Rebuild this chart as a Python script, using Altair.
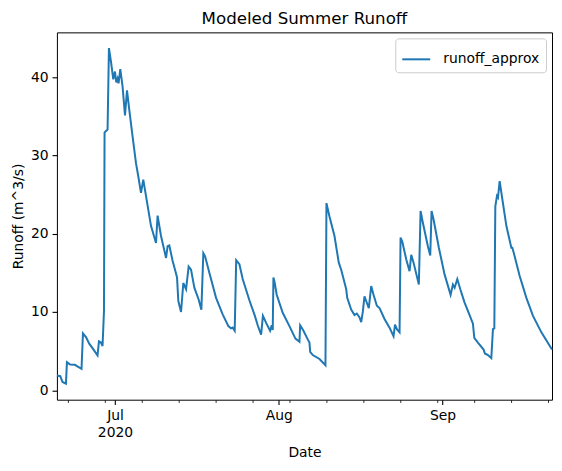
import altair as alt
import pandas as pd

# runoff: days since 2020-06-20 00:00 and value in m^3/s
days = [0.0, 0.63, 1.06, 1.71, 1.90, 2.52, 3.41, 4.04, 4.66, 4.93,
        5.50, 6.12, 6.94, 7.69, 7.96, 8.34, 8.64, 8.91, 9.02, 9.29,
        9.59, 9.85, 10.23, 10.67, 10.99, 11.24, 11.48, 11.67, 12.00, 12.43,
        12.89, 13.27, 13.70, 14.33, 14.97, 15.41, 15.92, 16.35, 16.87, 17.81,
        18.76, 19.06, 19.71, 20.66, 20.96, 21.28, 21.91, 22.36, 22.74, 22.99,
        23.50, 23.93, 24.45, 24.94, 25.39, 26.02, 26.83, 27.35, 27.72, 28.05,
        28.86, 30.13, 31.38, 32.46, 32.97, 33.28, 33.66, 33.94, 34.55, 35.17,
        36.44, 37.48, 38.01, 38.66, 39.00, 39.61, 40.36, 40.67, 40.86, 40.99,
        41.24, 41.61, 42.75, 44.02, 45.16, 45.92, 46.05, 46.68, 47.49, 47.81,
        47.95, 48.44, 49.71, 50.84, 51.03, 51.60, 52.55, 53.36, 53.82, 54.77,
        54.96, 55.71, 56.34, 56.78, 57.29, 57.61, 57.91, 58.23, 58.55, 59.05,
        59.50, 59.94, 60.57, 61.08, 62.02, 62.97, 63.73, 64.01, 64.36, 64.87,
        65.06, 65.38, 66.14, 66.76, 67.08, 67.52, 68.52, 68.85, 69.28, 70.23,
        70.68, 70.93, 71.31, 72.31, 73.39, 74.53, 74.97, 75.29, 75.80, 76.37,
        77.18, 78.13, 78.76, 79.02, 79.70, 80.78, 81.03, 81.60, 82.24, 82.55,
        82.81, 83.00, 83.31, 83.50, 83.82, 84.44, 85.09, 86.03, 86.22, 86.47,
        87.61, 88.88, 90.13, 91.72, 93.73]
runoff = [1.9, 1.8, 1.06, 0.85, 3.6, 3.3, 3.25, 3.0, 2.75, 7.27,
          6.8, 5.95, 5.2, 4.45, 6.25, 6.1, 5.65, 10.1, 32.9, 33.1,
          33.3, 43.7, 42.0, 39.7, 40.7, 39.3, 39.8, 39.2, 41.0, 38.8,
          35.1, 38.3, 35.8, 32.4, 29.0, 27.3, 25.2, 26.9, 24.8, 21.0,
          18.8, 22.3, 19.7, 16.9, 18.4, 18.5, 16.5, 15.4, 14.4, 11.4,
          10.0, 13.7, 12.9, 15.8, 15.4, 13.1, 11.6, 10.3, 17.5, 17.1,
          15.0, 11.8, 9.7, 8.2, 7.9, 8.0, 7.6, 16.6, 16.1, 14.2,
          11.5, 9.5, 8.3, 7.1, 9.5, 8.6, 7.6, 8.3, 7.7, 14.4,
          13.7, 12.2, 9.9, 8.2, 6.6, 6.2, 8.3, 7.6, 6.5, 6.1,
          4.9, 4.5, 4.0, 3.2, 23.9, 22.2, 19.7, 16.3, 15.4, 12.9,
          11.8, 10.3, 9.6, 9.8, 9.3, 8.7, 10.0, 12.0, 11.4, 10.5,
          13.3, 12.2, 10.8, 10.5, 9.1, 8.0, 6.9, 8.4, 7.8, 7.4,
          19.5, 19.0, 16.7, 15.2, 17.3, 16.3, 13.5, 22.9, 21.4, 18.4,
          17.2, 22.9, 21.8, 18.2, 14.8, 12.2, 13.5, 13.1, 14.2, 12.9,
          11.2, 9.6, 8.5, 6.7, 6.1, 5.2, 4.7, 4.5, 4.1, 7.8,
          7.9, 23.5, 24.8, 24.6, 26.7, 23.9, 21.0, 18.2, 18.2, 17.6,
          14.6, 11.8, 9.5, 7.4, 5.2]

y_ticks = [0, 10, 20, 30, 40]
month_ticks = ["2020-07-01", "2020-08-01", "2020-09-01"]
monday_ticks = pd.date_range("2020-06-22", "2020-09-21", freq="7D")

start = pd.Timestamp("2020-06-20")
df = pd.DataFrame({
    "Date": start + pd.to_timedelta(days, unit="D"),
    "runoff": runoff,
    "series": "runoff_approx",
})


def dt(ts):
    ts = pd.Timestamp(ts)
    return alt.DateTime(year=ts.year, month=ts.month, date=ts.day)


tick_vals = [dt(t) for t in month_ticks] + [dt(t) for t in monday_ticks]
font = "DejaVu Sans"
is_month = "date(datum.value) == 1"

chart = alt.Chart(df).mark_line(strokeWidth=2).encode(
    x=alt.X("Date:T", title="Date",
            scale=alt.Scale(nice=False),
            axis=alt.Axis(values=tick_vals, grid=False, domain=False,
                          labelExpr="date(datum.value) == 1 ? (month(datum.value) == 6 ? [timeFormat(datum.value, '%b'), '2020'] : timeFormat(datum.value, '%b')) : ''",
                          tickSize={"condition": {"test": is_month, "value": 4.9}, "value": 2.8},
                          tickWidth={"condition": {"test": is_month, "value": 1.1}, "value": 0.8},
                          labelPadding=4, labelLineHeight=17, labelFlush=False,
                          titlePadding=6)),
    y=alt.Y("runoff:Q", title="Runoff (m^3/s)",
            scale=alt.Scale(domain=[-1.2, 45.7], nice=False, zero=False),
            axis=alt.Axis(values=y_ticks, grid=False, domain=False,
                          tickSize=4.9, tickWidth=1.1, labelPadding=4,
                          titlePadding=5)),
    color=alt.Color("series:N",
                    scale=alt.Scale(domain=["runoff_approx"], range=["#1f77b4"]),
                    legend=alt.Legend(title=None, orient="top-right", offset=6,
                                      strokeColor="#cccccc", fillColor="white",
                                      padding=6, cornerRadius=3,
                                      symbolType="stroke", symbolSize=784,
                                      symbolStrokeWidth=2, labelOffset=12,
                                      labelFontSize=13.9, labelFont=font,
                                      labelColor="black")),
).properties(
    width=496,
    height=368,
    title=alt.TitleParams("Modeled Summer Runoff", fontSize=16.7, font=font,
                          fontWeight="normal", color="black", offset=5),
    autosize=alt.AutoSizeParams(type="none"),
    padding={"left": 49, "top": 24, "right": 2, "bottom": 60},
).configure_view(
    stroke="black", strokeWidth=1
).configure_axis(
    labelFont=font, labelFontSize=13.9, labelColor="black",
    titleFont=font, titleFontSize=13.9, titleFontWeight="normal",
    titleColor="black", tickColor="black"
)

chart.save("out.html", embed_options={"renderer": "svg", "actions": False})
